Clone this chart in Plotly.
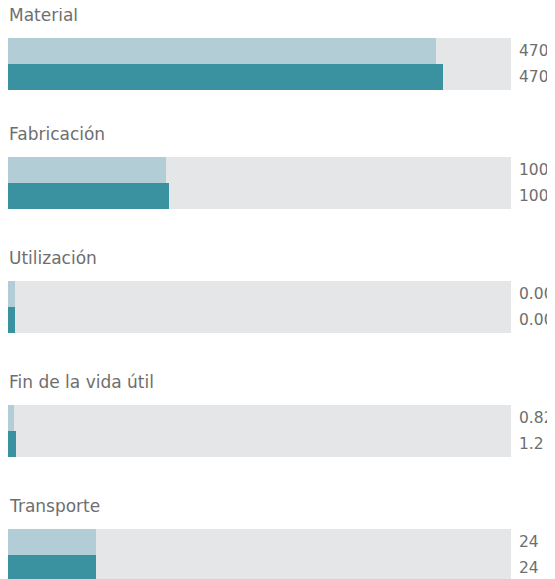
import plotly.graph_objects as go

# ---- data ----
categories = ["Material", "Fabricación", "Utilización", "Fin de la vida útil", "Transporte"]
labels_a = ["470", "100", "0.00", "0.82", "24"]
labels_b = ["470", "100", "0.00", "1.2", "24"]
# bar lengths as share of the track (percent)
bar_a = [85.1, 31.4, 1.4, 1.2, 17.5]
bar_b = [86.5, 32.0, 1.4, 1.5, 17.5]
track_max = 100

# ---- layout constants (page has an 8px body margin) ----
W, H = 555, 579
GROUP = 124
FIRST_TOP = 30      # top of first track in figure px
BAR_H = 26
TITLE_GAP = 23
LIGHT = "#b3cdd7"
TEAL = "#3a919f"
TRACK = "#e5e6e8"
TXT = "#6e6e6e"
FONT = "DejaVu Sans"

n = len(categories)
tops = [FIRST_TOP + (i * GROUP - 5 if i > 0 else 0) for i in range(n)]
ya = [t + BAR_H / 2 for t in tops]
yb = [t + 1.5 * BAR_H for t in tops]
yt = [t + BAR_H for t in tops]
ytitle = [t - TITLE_GAP for t in tops]

fig = go.Figure()
fig.add_trace(go.Bar(x=[track_max] * n, y=yt, orientation="h", width=2 * BAR_H,
                     marker=dict(color=TRACK, line=dict(width=0)), hoverinfo="skip"))
fig.add_trace(go.Bar(x=bar_a, y=ya, orientation="h", width=BAR_H,
                     marker=dict(color=LIGHT, line=dict(width=0))))
fig.add_trace(go.Bar(x=bar_b, y=yb, orientation="h", width=BAR_H,
                     marker=dict(color=TEAL, line=dict(width=0))))

for i in range(n):
    for yy, lab in ((ya[i], labels_a[i]), (yb[i], labels_b[i])):
        fig.add_annotation(x=track_max, y=yy, xref="x", yref="y", text=lab,
                           showarrow=False, xanchor="left", yanchor="middle",
                           xshift=6, font=dict(family=FONT, size=15.5, color=TXT))

for i, c in enumerate(categories):
    fig.add_annotation(x=0, y=ytitle[i], xref="x", yref="y", text=c,
                       showarrow=False, xanchor="left", yanchor="middle", xshift=0,
                       borderpad=0,
                       font=dict(family=FONT, size=17, color=TXT))

fig.update_layout(
    width=W, height=H, barmode="overlay", bargap=0,
    margin=dict(l=0, r=52, t=0, b=0),
    paper_bgcolor="white", plot_bgcolor="white",
    showlegend=False,
    xaxis=dict(range=[0, track_max], visible=False, fixedrange=True),
    yaxis=dict(range=[H, 0], visible=False, fixedrange=True),
)

fig.write_html("out.html")
